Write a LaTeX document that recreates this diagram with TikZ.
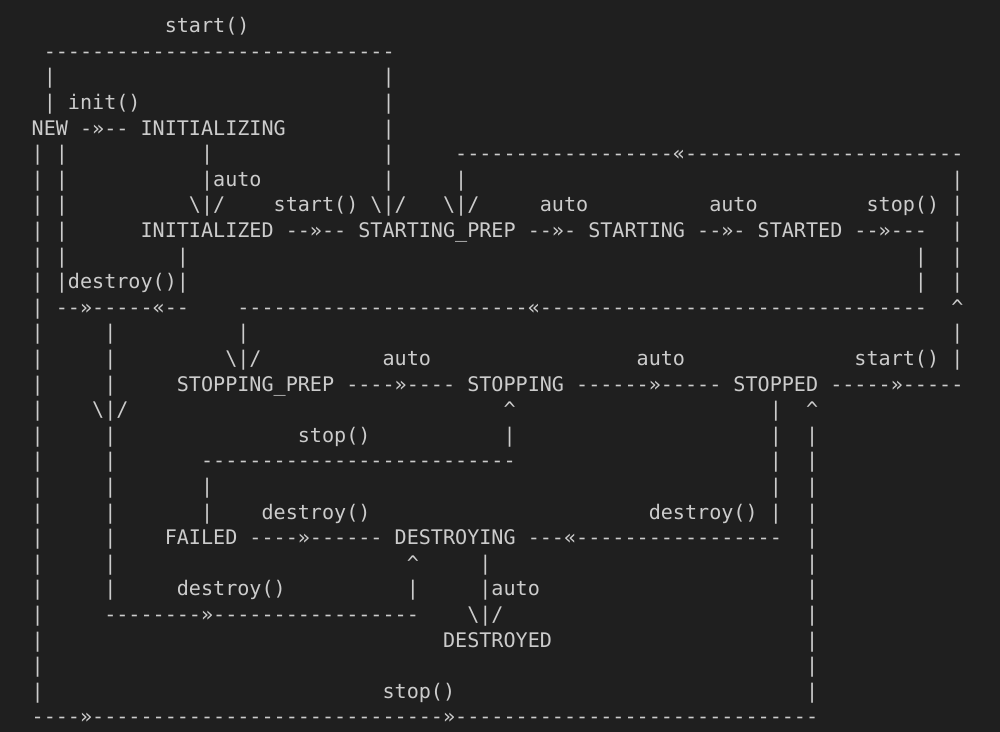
\documentclass[tikz,border=0pt]{standalone}
\usepackage{fontspec}
\setmonofont{DejaVu Sans Mono}
\usepackage{tikz}

\definecolor{bg}{HTML}{1F1F1F}
\definecolor{fg}{HTML}{CCCCCC}
\tikzset{txt/.style={anchor=base west, inner sep=0pt, outer sep=0pt, text=fg,
    font=\ttfamily\fontsize{20.1pt}{24pt}\selectfont}}
\newcommand{\at}[3]{\node[txt] (r#2c#1) at (#1,#2) {#3};}
\newcommand{\bs}{\textbackslash}

\begin{document}
\begin{tikzpicture}[x=12.1pt, y=-25.6pt]
    \useasboundingbox (-2.616,-0.277) rectangle (80.03,28.316);
    \fill[bg] (-2.616,-0.277) rectangle (80.03,28.316);

    \at{11}{1}{start()}
    \at{1}{2}{-----------------------------}
    \at{1}{3}{|} \at{29}{3}{|}
    \at{1}{4}{|} \at{3}{4}{init()} \at{29}{4}{|}
    \node[txt] (new) at (0,5) {NEW};
    \at{4}{5}{-»--}
    \node[txt] (initializing) at (9,5) {INITIALIZING};
    \at{29}{5}{|}
    \at{0}{6}{|} \at{2}{6}{|} \at{14}{6}{|} \at{29}{6}{|}
    \at{35}{6}{------------------«-----------------------}
    \at{0}{7}{|} \at{2}{7}{|} \at{14}{7}{|auto} \at{29}{7}{|} \at{35}{7}{|} \at{76}{7}{|}
    \at{0}{8}{|} \at{2}{8}{|} \at{13}{8}{\bs|/} \at{20}{8}{start()} \at{28}{8}{\bs|/}
    \at{34}{8}{\bs|/} \at{42}{8}{auto} \at{56}{8}{auto} \at{69}{8}{stop()} \at{76}{8}{|}

    \at{0}{9}{|} \at{2}{9}{|}
    \node[txt] (initialized) at (9,9) {INITIALIZED};
    \at{21}{9}{--»--}
    \node[txt] (startingprep) at (27,9) {STARTING\_PREP};
    \at{41}{9}{--»-}
    \node[txt] (starting) at (46,9) {STARTING};
    \at{55}{9}{--»-}
    \node[txt] (started) at (60,9) {STARTED};
    \at{68}{9}{--»---}
    \at{76}{9}{|}
    \at{0}{10}{|} \at{2}{10}{|} \at{12}{10}{|} \at{73}{10}{|} \at{76}{10}{|}
    \at{0}{11}{|} \at{2}{11}{|destroy()|} \at{73}{11}{|} \at{76}{11}{|}
    \at{0}{12}{|} \at{2}{12}{--»-----«--}
    \at{17}{12}{------------------------«--------------------------------}
    \at{76}{12}{\textasciicircum}
    \at{0}{13}{|} \at{6}{13}{|} \at{17}{13}{|} \at{76}{13}{|}
    \at{0}{14}{|} \at{6}{14}{|} \at{16}{14}{\bs|/} \at{29}{14}{auto} \at{50}{14}{auto}
    \at{68}{14}{start()} \at{76}{14}{|}

    \at{0}{15}{|} \at{6}{15}{|}
    \node[txt] (stoppingprep) at (12,15) {STOPPING\_PREP};
    \at{26}{15}{----»----}
    \node[txt] (stopping) at (36,15) {STOPPING};
    \at{45}{15}{------»-----}
    \node[txt] (stopped) at (58,15) {STOPPED};
    \at{66}{15}{-----»-----}
    \at{0}{16}{|} \at{5}{16}{\bs|/} \at{39}{16}{\textasciicircum} \at{61}{16}{|} \at{64}{16}{\textasciicircum}
    \at{0}{17}{|} \at{6}{17}{|} \at{22}{17}{stop()} \at{39}{17}{|} \at{61}{17}{|} \at{64}{17}{|}
    \at{0}{18}{|} \at{6}{18}{|} \at{14}{18}{--------------------------} \at{61}{18}{|} \at{64}{18}{|}
    \at{0}{19}{|} \at{6}{19}{|} \at{14}{19}{|} \at{61}{19}{|} \at{64}{19}{|}
    \at{0}{20}{|} \at{6}{20}{|} \at{14}{20}{|} \at{19}{20}{destroy()} \at{51}{20}{destroy()}
    \at{61}{20}{|} \at{64}{20}{|}

    \at{0}{21}{|} \at{6}{21}{|}
    \node[txt] (failed) at (11,21) {FAILED};
    \at{18}{21}{----»------}
    \node[txt] (destroying) at (30,21) {DESTROYING};
    \at{41}{21}{---«-----------------}
    \at{64}{21}{|}
    \at{0}{22}{|} \at{6}{22}{|} \at{31}{22}{\textasciicircum} \at{37}{22}{|} \at{64}{22}{|}
    \at{0}{23}{|} \at{6}{23}{|} \at{12}{23}{destroy()} \at{31}{23}{|} \at{37}{23}{|auto} \at{64}{23}{|}
    \at{0}{24}{|} \at{6}{24}{--------»-----------------} \at{36}{24}{\bs|/} \at{64}{24}{|}
    \at{0}{25}{|}
    \node[txt] (destroyed) at (34,25) {DESTROYED};
    \at{64}{25}{|}
    \at{0}{26}{|} \at{64}{26}{|}
    \at{0}{27}{|} \at{29}{27}{stop()} \at{64}{27}{|}
    \at{0}{28}{----»-----------------------------»------------------------------}
\end{tikzpicture}
\end{document}
